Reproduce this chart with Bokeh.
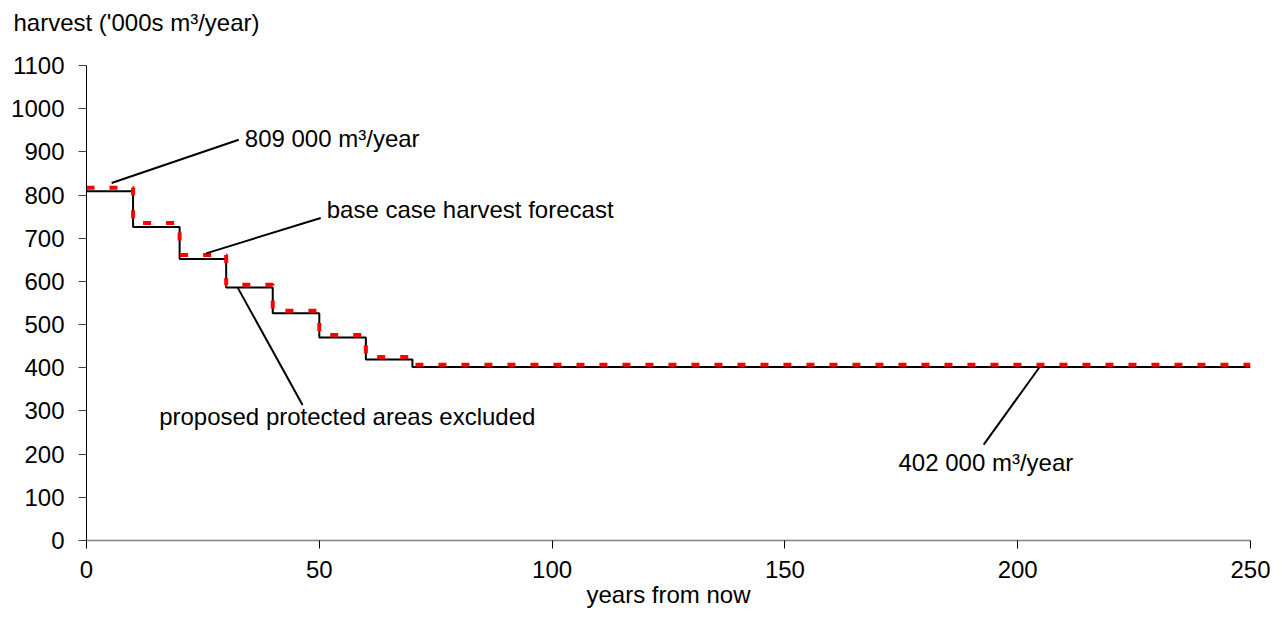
from bokeh.plotting import figure
from bokeh.models import SingleIntervalTicker, Range1d, ColumnDataSource
from bokeh.core.properties import value
from bokeh.embed import file_html
from bokeh.resources import INLINE

# ---- data ----
step_starts = [0, 10, 20, 30, 40, 50, 60, 70, 250]
protected_excluded = [809, 726, 652, 586, 526, 470, 419, 402, 402]
base_case = [817, 735, 661, 592, 532, 476, 425, 407, 407]

y_ticks_interval = 100
x_ticks_interval = 50
y_axis_title = "harvest ('000s m³/year)"
x_axis_title = "years from now"

# annotation callouts (data units)
ann_texts = ["809 000 m³/year", "base case harvest forecast",
             "proposed protected areas excluded", "402 000 m³/year"]
ann_text_x = [34.0, 51.6, 15.6, 174.4]
ann_text_y = [930, 766, 287, 181]
ann_line_x0 = [5.4, 25.7, 32.5, 204.6]
ann_line_y0 = [828, 665, 585, 400]
ann_line_x1 = [32.7, 50.3, 46.4, 192.7]
ann_line_y1 = [928, 747, 314, 222]

FONT = "Liberation Sans"
FS = "24px"

p = figure(frame_width=1164, frame_height=475, output_backend="svg",
           toolbar_location=None, x_range=Range1d(0, 250), y_range=Range1d(0, 1100),
           min_border_left=86, min_border_right=20, min_border_top=65,
           min_border_bottom=20, background_fill_color="white",
           border_fill_color="white")
p.outline_line_color = None
p.grid.visible = False

# y-axis title shown horizontally at the top-left, like the reference
p.title.text = y_axis_title
p.title.text_font = FONT
p.title.text_font_size = FS
p.title.text_font_style = "normal"
p.title.text_color = "black"
p.title.align = "left"
p.title.vertical_align = "top"
p.title.offset = -73
p.title.standoff = 16
p.title.padding = dict(left=0, right=0, top=0, bottom=20)

# axes
p.xaxis.ticker = SingleIntervalTicker(interval=x_ticks_interval)
p.yaxis.ticker = SingleIntervalTicker(interval=y_ticks_interval)
for ax in (p.xaxis, p.yaxis):
    ax.minor_tick_line_color = None
    ax.major_tick_in = 0
    ax.major_tick_out = 8
    ax.major_label_text_font = FONT
    ax.major_label_text_font_size = FS
    ax.major_label_text_color = "black"
    ax.axis_label_text_font = FONT
    ax.axis_label_text_font_size = FS
    ax.axis_label_text_font_style = "normal"
    ax.axis_label_text_color = "black"
p.xaxis.axis_line_color = "#808080"
p.xaxis.axis_line_width = 1.5
p.xaxis.major_tick_line_color = "black"
p.yaxis.axis_line_color = "black"
p.yaxis.major_tick_line_color = "#404040"
p.xaxis.major_label_standoff = 12
p.yaxis.major_label_standoff = 14
p.xaxis.axis_label = x_axis_title
p.xaxis.axis_label_standoff = 0

# step lines
p.step(step_starts, protected_excluded, mode="after", line_color="black", line_width=2)
p.step(step_starts, base_case, mode="after", line_color="#ff0000", line_width=4,
       line_dash="8 15")

# annotation callouts
p.segment(x0=ann_line_x0, y0=ann_line_y0, x1=ann_line_x1, y1=ann_line_y1,
          line_color="black", line_width=2)
src = ColumnDataSource(dict(x=ann_text_x, y=ann_text_y, t=ann_texts))
p.text(x="x", y="y", text="t", source=src, text_font=value(FONT),
       text_font_size=FS, text_baseline="middle", text_align="left",
       text_color="black")

open("out.html", "w").write(file_html(p, INLINE))
